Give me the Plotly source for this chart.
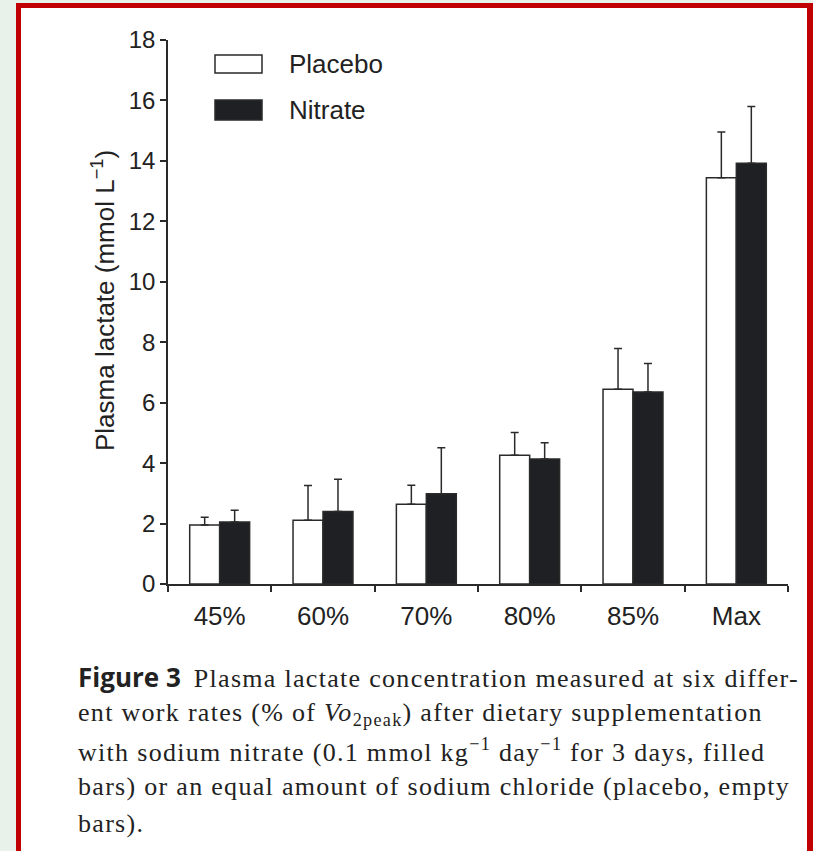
import plotly.graph_objects as go

categories = ["45%", "60%", "70%", "80%", "85%", "Max"]
placebo_mean = [1.95, 2.11, 2.64, 4.26, 6.44, 13.44]
placebo_sem = [0.26, 1.15, 0.63, 0.75, 1.35, 1.52]
nitrate_mean = [2.05, 2.40, 2.99, 4.14, 6.35, 13.92]
nitrate_sem = [0.39, 1.07, 1.52, 0.53, 0.95, 1.88]
y_ticks = [0, 2, 4, 6, 8, 10, 12, 14, 16, 18]

W, H = 813, 851
L, R, T, B = 168, 788, 40, 584  # plot area in pixels


def px(x):
    return (x - L) / (R - L)


def py(y):
    return (B - y) / (B - T)


INK = "#2a2a2a"
BAR_DARK = "#1f2023"
SANS = "Liberation Sans, Arial, sans-serif"
SERIF = "Liberation Serif, Times New Roman, serif"

fig = go.Figure()
fig.add_trace(go.Bar(
    name="Placebo", x=categories, y=placebo_mean,
    marker=dict(color="white", line=dict(color=INK, width=1.5)),
    error_y=dict(type="data", symmetric=False, array=placebo_sem,
                 arrayminus=[0] * len(placebo_sem), color=INK,
                 thickness=1.5, width=4),
    showlegend=False,
))
fig.add_trace(go.Bar(
    name="Nitrate", x=categories, y=nitrate_mean,
    marker=dict(color=BAR_DARK, line=dict(color=INK, width=1.5)),
    error_y=dict(type="data", symmetric=False, array=nitrate_sem,
                 arrayminus=[0] * len(nitrate_sem), color=INK,
                 thickness=1.5, width=4),
    showlegend=False,
))

shapes = [
    # red frame and white panel
    dict(type="rect", xref="paper", yref="paper", x0=px(16), x1=px(830),
         y0=py(3), y1=py(900), fillcolor="#c00000", line=dict(width=0),
         layer="below"),
    dict(type="rect", xref="paper", yref="paper", x0=px(21), x1=px(807),
         y0=py(8), y1=py(900), fillcolor="white", line=dict(width=0),
         layer="below"),
    # legend swatches
    dict(type="rect", xref="paper", yref="paper", x0=px(215), x1=px(262),
         y0=py(55), y1=py(73), fillcolor="white",
         line=dict(color=INK, width=1.5)),
    dict(type="rect", xref="paper", yref="paper", x0=px(215), x1=px(262),
         y0=py(100), y1=py(120), fillcolor=BAR_DARK,
         line=dict(color=INK, width=1.5)),
]

annotations = [
    dict(text="Placebo", xref="paper", yref="paper", x=px(287), y=py(64),
         xanchor="left", yanchor="middle", showarrow=False,
         font=dict(family=SANS, size=26, color="#222")),
    dict(text="Nitrate", xref="paper", yref="paper", x=px(287), y=py(110),
         xanchor="left", yanchor="middle", showarrow=False,
         font=dict(family=SANS, size=26, color="#222")),
    dict(text="Plasma lactate (mmol L<sup>−1</sup>)", xref="paper",
         yref="paper", x=px(103), y=py(301), textangle=-90,
         xanchor="center", yanchor="middle", showarrow=False,
         font=dict(family=SANS, size=26, color="#222")),
]

SP = "<span style=\"letter-spacing:1.3px\">"
caption_lines = [
    "<span style=\"font-family:'Open Sans';font-weight:bold\">Figure 3</span>"
    "  " + SP + "Plasma lactate concentration measured at six differ-</span>",
    SP + "ent work rates (% of <i>Vo</i><sub>2peak</sub>) after dietary supplementation</span>",
    SP + "with sodium nitrate (0.1 mmol kg<sup>−1</sup> day<sup>−1</sup> for 3 days, filled</span>",
    SP + "bars) or an equal amount of sodium chloride (placebo, empty</span>",
    SP + "bars).</span>",
]
for i, line in enumerate(caption_lines):
    annotations.append(dict(
        text=line, xref="paper", yref="paper", x=px(76), y=py(677 + 36.5 * i),
        xanchor="left", yanchor="middle", showarrow=False, align="left",
        font=dict(family=SERIF, size=26, color="#222")))

fig.update_layout(
    width=W, height=H,
    margin=dict(l=L, r=W - R, t=T, b=H - B, pad=0),
    paper_bgcolor="#e8f2ea",
    plot_bgcolor="rgba(0,0,0,0)",
    barmode="group", bargap=0.42, bargroupgap=0,
    showlegend=False,
    shapes=shapes, annotations=annotations,
    xaxis=dict(
        type="category", range=[-0.5, 5.5], tickson="boundaries",
        ticks="outside", ticklen=6, tickwidth=1.5, tickcolor=INK,
        showline=True, linecolor=INK, linewidth=1.5, showgrid=False,
        zeroline=False, tickfont=dict(family=SANS, size=26, color="#222"),
        ticklabelstandoff=8, fixedrange=True,
    ),
    yaxis=dict(
        range=[0, 18], tickvals=y_ticks, ticks="outside", ticklen=6,
        tickwidth=1.5, tickcolor=INK, showline=True, linecolor=INK,
        linewidth=1.5, showgrid=False, zeroline=False,
        tickfont=dict(family=SANS, size=24, color="#222"), fixedrange=True,
    ),
)

fig.write_html("out.html")
